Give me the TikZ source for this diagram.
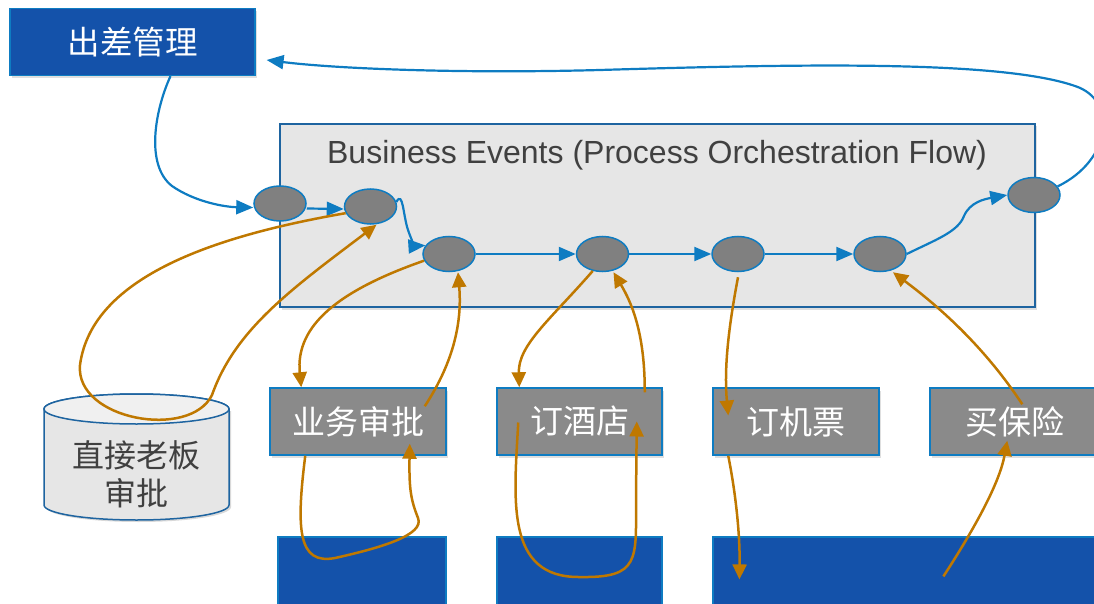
\documentclass[tikz,border=0pt]{standalone}
\usepackage{fontspec}
\setmainfont{Liberation Sans}
\newfontfamily\cjk{Noto Sans CJK SC}
\usetikzlibrary{arrows.meta,shapes.geometric,shadows}
\definecolor{navy}{RGB}{20,82,170}
\definecolor{lblue}{RGB}{14,124,194}
\definecolor{bbord}{RGB}{30,100,160}
\definecolor{bgray}{RGB}{230,230,230}
\definecolor{egray}{RGB}{128,128,128}
\definecolor{boxgray}{RGB}{138,138,138}
\definecolor{ora}{RGB}{191,120,0}
\definecolor{txt}{RGB}{64,64,64}
\begin{document}
\begin{tikzpicture}[x=1pt,y=-1pt,
  shad/.style={drop shadow={opacity=0.25,shadow xshift=2pt,shadow yshift=-2.5pt}},
  navybox/.style={rectangle,fill=navy,draw=lblue,line width=1.2pt,inner sep=0pt,text=white},
  graybox/.style={rectangle,fill=boxgray,draw=lblue,line width=1.5pt,inner sep=0pt,text=white,minimum height=67pt,shad,font=\cjk\fontsize{33}{38}\selectfont},
  evt/.style={ellipse,fill=egray,draw=lblue,line width=1.5pt,minimum width=52pt,minimum height=35pt,inner sep=0pt},
  bl/.style={draw=lblue,line width=2.2pt,-{Triangle[length=17pt,width=14pt]}},
  ol/.style={draw=ora,line width=2.5pt,-{Triangle[length=15pt,width=14pt]}}]
\useasboundingbox (0,0) rectangle (1094,604);

% big frame
\node[rectangle,fill=bgray,draw=bbord,line width=1.5pt,minimum width=755pt,minimum height=183pt,inner sep=0pt,shad] (frame) at (657.5,215.5) {};
\node[text=txt,font=\fontsize{32}{36}\selectfont] (title) at (657,155) {Business Events (Process Orchestration Flow)};

% top box
\node[navybox,minimum width=245pt,minimum height=67pt,shad,font=\cjk\fontsize{32.5}{36}\selectfont] (mgmt) at (132.5,42) {出差管理};

% events
\node[evt] (e1) at (280,203.5) {};
\node[evt] (e2) at (370.5,206.5) {};
\node[evt] (e3) at (449,254) {};
\node[evt] (e4) at (602.5,254) {};
\node[evt] (e5) at (738,254) {};
\node[evt] (e6) at (880,254) {};
\node[evt] (e7) at (1034,195) {};

% gray boxes
\node[graybox,minimum width=176pt] (yw) at (358,421.5) {业务审批};
\node[graybox,minimum width=165pt] (ht) at (579.5,421.5) {订酒店};
\node[graybox,minimum width=166pt] (jp) at (796,421.5) {订机票};
\node[graybox,minimum width=170pt,text width=164pt,align=left] (bx) at (1015,421.5) {\hspace*{32pt}买保险};

% bottom boxes
\node[navybox,minimum width=168pt,minimum height=75pt] (bb1) at (362,574.5) {};
\node[navybox,minimum width=165pt,minimum height=75pt] (bb2) at (579.5,574.5) {};
\node[navybox,minimum width=390pt,minimum height=75pt] (bb3) at (908,574.5) {};

% cylinder
\fill[black,opacity=0.15] (46,411) -- (46,507) arc[start angle=180,end angle=360,x radius=92.5pt,y radius=15pt] -- (231,411) -- cycle;
\filldraw[fill=bgray,draw=bbord,line width=1.5pt] (44,409) -- (44,505) arc[start angle=180,end angle=360,x radius=92.5pt,y radius=15pt] -- (229,409) arc[start angle=0,end angle=180,x radius=92.5pt,y radius=15pt] -- cycle;
\filldraw[fill=black!6,draw=bbord,line width=1.5pt] (136.5,409) ellipse[x radius=92.5pt,y radius=15pt];
\node[text=txt,font=\cjk\fontsize{32}{38}\selectfont,align=center] (db) at (136.5,474) {直接老板\\审批};

% blue connectors
\draw[bl] ([xshift=38pt]mgmt.south) .. controls (155,110) and (145,165) .. (172,186) .. controls (195,202) and (225,207) .. ([yshift=-4pt]e1.west);
\draw[bl] ([yshift=-5pt]e1.east) -- ([yshift=-2.5pt]e2.west);
\draw[bl] (e2.10) .. controls (403,190) and (403,215) .. (408,230) .. controls (412,242) and (416,246) .. (e3.160);
\draw[bl] (e3) -- (e4);
\draw[bl] (e4) -- (e5);
\draw[bl] (e5) -- (e6);
\draw[bl] (e6.east) .. controls (935,240) and (958,232) .. (964,216) .. controls (970,202) and (985,199) .. (e7.west);
\draw[bl] (e7.20) .. controls (1112,160) and (1118,100) .. (1075,86) .. controls (1000,60) and (800,64) .. (600,70) .. controls (450,74) and (330,68) .. ([xshift=11pt,yshift=-18pt]mgmt.east);

% orange connectors
\draw[ol] (e2.195) .. controls (220,235) and (92,275) .. (80,365) .. controls (75,420) and (190,440) .. (212,395) .. controls (235,330) and (290,290) .. ([xshift=6pt]e2.south);
\draw[ol] (e3.195) .. controls (340,290) and (295,325) .. ([xshift=32pt]yw.north west);
\draw[ol] ([xshift=-22pt,yshift=-19pt]yw.north east) .. controls (455,360) and (462,320) .. ([xshift=9pt]e3.south);
\draw[ol] ([xshift=36pt]yw.south west) .. controls (296,530) and (298,565) .. (335,558) .. controls (380,548) and (425,535) .. (418,518) .. controls (411,500) and (409,490) .. ([xshift=-37pt,yshift=12pt]yw.south east);
\draw[ol] (e4.240) .. controls (550,320) and (518,345) .. ([xshift=23pt]ht.north west);
\draw[ol] ([xshift=-18pt,yshift=-5pt]ht.north east) .. controls (645,330) and (630,300) .. ([xshift=11pt]e4.south);
\draw[ol] ([xshift=22pt,yshift=-1pt]ht.west) .. controls (514,500) and (505,578) .. (580,577) .. controls (640,578) and (636,560) .. (636,500) -- ([xshift=-26pt]ht.east);
\draw[ol] ([yshift=-5pt]e5.south) .. controls (728,330) and (724,370) .. ([xshift=16pt,yshift=6pt]jp.west);
\draw[ol] ([xshift=16pt]jp.south west) .. controls (737,500) and (740,540) .. ([xshift=27pt,yshift=-43pt]bb3.north west);
\draw[ol] ([xshift=231pt,yshift=-40pt]bb3.north west) .. controls (980,520) and (1000,480) .. ([xshift=78pt,yshift=15pt]bx.south west);
\draw[ol] ([xshift=93pt,yshift=-17pt]bx.north west) .. controls (980,340) and (930,300) .. ([xshift=13pt]e6.south);
\end{tikzpicture}
\end{document}
